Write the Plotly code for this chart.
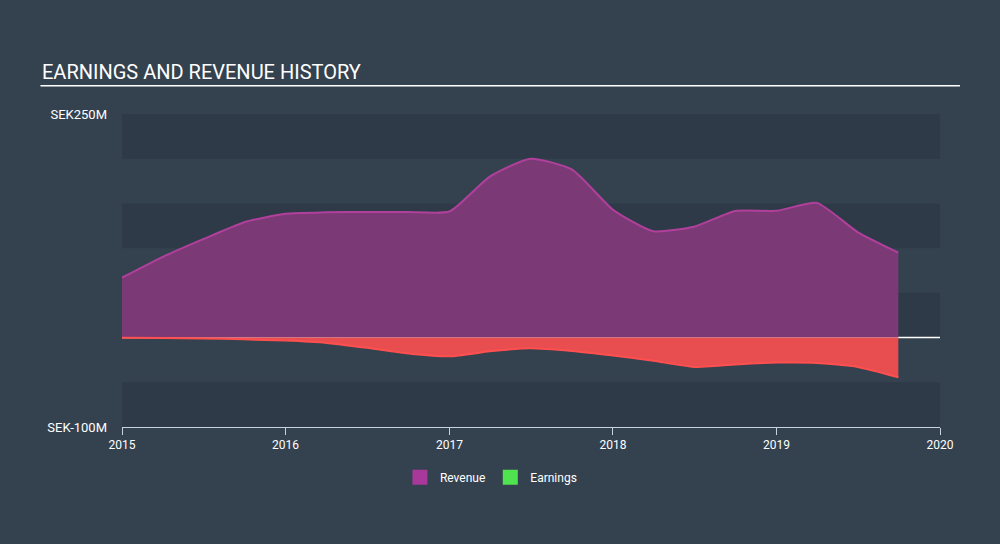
import plotly.graph_objects as go

dates = ["2015-01-01", "2015-04-01", "2015-07-01", "2015-10-01",
         "2016-01-01", "2016-04-01", "2016-07-01", "2016-10-01",
         "2017-01-01", "2017-04-01", "2017-07-01", "2017-10-01",
         "2018-01-01", "2018-04-01", "2018-07-01", "2018-10-01",
         "2019-01-01", "2019-04-01", "2019-07-01", "2019-09-30"]
revenue = [67, 90, 110, 129, 138.5, 140, 140.5, 140.5, 141, 180, 200, 188,
           143, 119, 124, 141.5, 141.7, 150.6, 118, 95]
earnings = [-0.3, -0.4, -0.9, -2, -3.4, -6, -11.5, -17.7, -21, -15.4, -11.9, -14.9,
            -20, -26, -32.8, -30, -28, -28.3, -32.8, -44.3]
y_tick_vals = [-100, 250]
y_tick_text = ["SEK-100M", "SEK250M"]
x_tick_vals = ["2015-01-01", "2016-01-01", "2017-01-01", "2018-01-01", "2019-01-01", "2020-01-01"]
x_tick_text = ["2015", "2016", "2017", "2018", "2019", "2020"]
band_ranges = [(200, 250), (100, 150), (0, 50), (-100, -50)]

BG = "#34424f"
BAND = "#2e3a48"

fig = go.Figure()
fig.add_trace(go.Scatter(
    x=dates, y=revenue, mode="lines", fill="tozeroy",
    line=dict(color="#b0409b", width=2, shape="spline", smoothing=0.55),
    fillcolor="#7b3a76", showlegend=False, hoverinfo="skip"))
fig.add_trace(go.Scatter(
    x=dates, y=earnings, mode="lines", fill="tozeroy",
    line=dict(color="#ff4f4f", width=2, shape="spline", smoothing=0.55),
    fillcolor="#e84e50", showlegend=False, hoverinfo="skip"))
# legend entries
fig.add_trace(go.Scatter(x=[None], y=[None], mode="markers", name="Revenue",
                         marker=dict(symbol="square", size=15, color="#a8389a")))
fig.add_trace(go.Scatter(x=[None], y=[None], mode="markers", name="Earnings",
                         marker=dict(symbol="square", size=15, color="#4fe34f")))

shapes = []
for lo, hi in band_ranges:
    shapes.append(dict(type="rect", xref="paper", yref="y", x0=0, x1=1, y0=lo, y1=hi,
                       fillcolor=BAND, line=dict(width=0), layer="below"))
shapes.append(dict(type="line", xref="paper", yref="y", x0=0, x1=1, y0=0, y1=0,
                   line=dict(color="white", width=1.5), layer="below"))
shapes.append(dict(type="line", xref="paper", yref="paper", x0=-0.0997, x1=1.0244,
                   y0=1.09, y1=1.09, line=dict(color="white", width=1.5)))

fig.update_layout(
    width=1000, height=544,
    margin=dict(l=122, r=60, t=114, b=117),
    paper_bgcolor=BG, plot_bgcolor=BG,
    font=dict(family="Roboto", color="white"),
    shapes=shapes,
    showlegend=True,
    legend=dict(orientation="h", x=0.451, xanchor="center", y=-0.114, yanchor="top",
                font=dict(size=12, color="white"), itemwidth=30, bgcolor="rgba(0,0,0,0)"),
    annotations=[dict(text="EARNINGS AND REVENUE HISTORY", xref="paper", yref="paper",
                      x=-0.1003, y=1.088, xanchor="left", yanchor="bottom", showarrow=False,
                      font=dict(size=20, color="white", family="Roboto"))],
    xaxis=dict(type="date", range=["2015-01-01", "2020-01-01"], tickvals=x_tick_vals,
               ticktext=x_tick_text, showgrid=False, zeroline=False, showline=True,
               linecolor="#c8d2dc", linewidth=1, ticks="outside", ticklen=7,
               tickcolor="#c8d2dc", tickfont=dict(size=12, color="white")),
    yaxis=dict(range=[-100, 250], tickvals=y_tick_vals, ticktext=y_tick_text,
               showgrid=False, zeroline=False, showline=False, ticks="",
               ticklabelstandoff=14, tickfont=dict(size=13, color="white")),
)

fig.write_html("out.html")
